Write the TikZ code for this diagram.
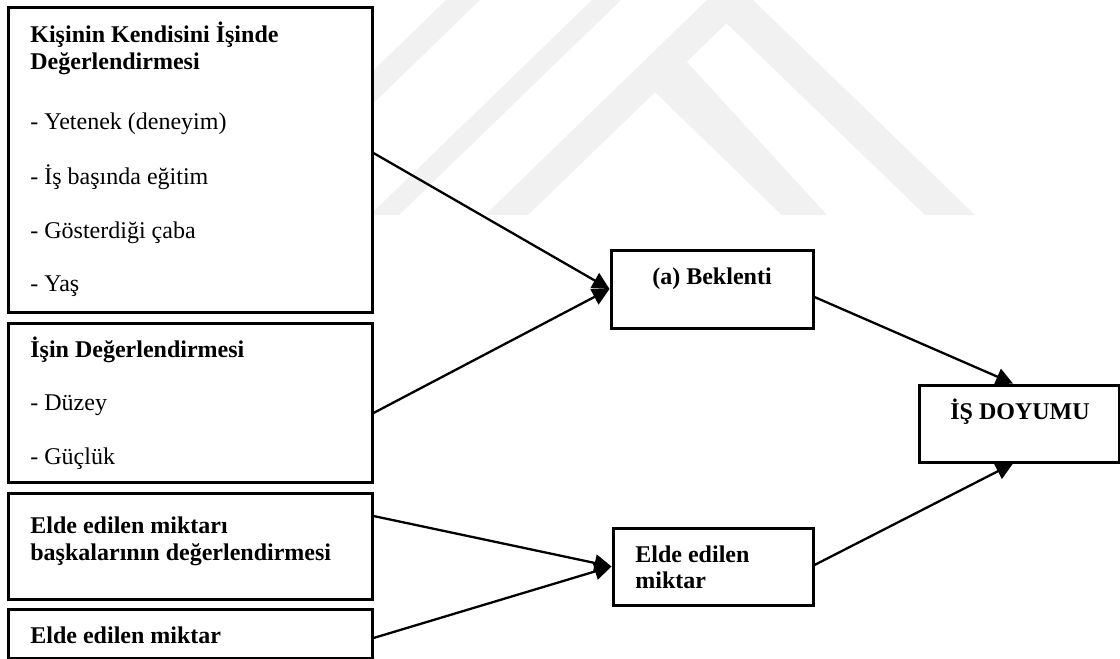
\documentclass[tikz,border=0pt]{standalone}
\usepackage{fontspec}
\setmainfont{Liberation Serif}
\usetikzlibrary{arrows.meta}
\definecolor{wm}{gray}{0.945}
\begin{document}
\begin{tikzpicture}[x=0.5pt,y=-0.5pt,
  box/.style={draw=black,line width=1.5pt,fill=white,rectangle,inner sep=0pt},
  txt/.style={anchor=base west,inner sep=0pt,font=\fontsize{12}{13.5}\selectfont},
  btxt/.style={txt,font=\fontsize{12}{13.5}\selectfont\bfseries},
  ctxt/.style={anchor=base,inner sep=0pt,font=\fontsize{12}{13.5}\selectfont\bfseries},
  conn/.style={draw=black,line width=1.15pt,-{Triangle[length=8.5pt,width=8.5pt]}},
  wmark/.style={fill=wm,draw=none}]
\useasboundingbox (0,0) rectangle (1120,659);
% watermark
\path[wmark] (485,215) -- (707,0) -- (753,0) -- (975,215) -- (925,215) -- (726.5,23.3) -- (528,215) -- cycle;
\path[wmark] (781.5,215) -- (655,92) -- (687,62) -- (827,215) -- cycle;
\path[wmark] (370,215) -- (399,215) -- (621,0) -- (592,0) -- cycle;
\path[wmark] (446,0) -- (480,0) -- (258,215) -- (224,215) -- cycle;
% boxes
\node[box,minimum width=182pt,minimum height=152.5pt] (b1) at (190,159.5) {};
\node[box,minimum width=182pt,minimum height=79.5pt] (b2) at (190,402.5) {};
\node[box,minimum width=182pt,minimum height=53pt] (b3) at (190,546) {};
\node[box,minimum width=182pt,minimum height=24.5pt] (b4) at (190,633.5) {};
\node[box,minimum width=101pt,minimum height=39pt] (bek) at (712,289) {};
\node[box,minimum width=100pt,minimum height=38.5pt] (elde) at (713,566.5) {};
\node[box,minimum width=100pt,minimum height=38.5pt] (is) at (1019,423.5) {};
% texts box 1
\node[btxt] (t1a) at (30,42) {Kişinin Kendisini İşinde};
\node[btxt] (t1b) at (30,69) {Değerlendirmesi};
\node[txt] (t1c) at (30,129) {- Yetenek (deneyim)};
\node[txt] (t1d) at (30,184) {- İş başında eğitim};
\node[txt] (t1e) at (30,238) {- Gösterdiği çaba};
\node[txt] (t1f) at (30,291) {- Yaş};
% texts box 2
\node[btxt] (t2a) at (30,357) {İşin Değerlendirmesi};
\node[txt] (t2b) at (30,410) {- Düzey};
\node[txt] (t2c) at (30,464) {- Güçlük};
% texts box 3, 4
\node[btxt] (t3a) at (30,533) {Elde edilen miktarı};
\node[btxt] (t3b) at (30,560) {başkalarının değerlendirmesi};
\node[btxt] (t4) at (30,643) {Elde edilen miktar};
% right texts
\node[ctxt] (tbek) at (712,284) {(a) Beklenti};
\node[ctxt] (tis) at (1020,419) {İŞ DOYUMU};
\node[btxt] (te1) at (635,562) {Elde edilen};
\node[btxt] (te2) at (635,588) {miktar};
% connectors
\draw[conn] ([yshift=3.25pt]b1.east) -- (bek.west);
\draw[conn] ([yshift=-5.25pt]b2.east) -- (bek.west);
\draw[conn] ([yshift=15pt]b3.east) -- (elde.west);
\draw[conn] ([yshift=-2.25pt]b4.east) -- (elde.west);
\draw[conn] ([yshift=-4pt]bek.east) -- ([xshift=-3pt]is.north);
\draw[conn] ([yshift=0.75pt]elde.east) -- ([xshift=-3pt]is.south);
\end{tikzpicture}
\end{document}
